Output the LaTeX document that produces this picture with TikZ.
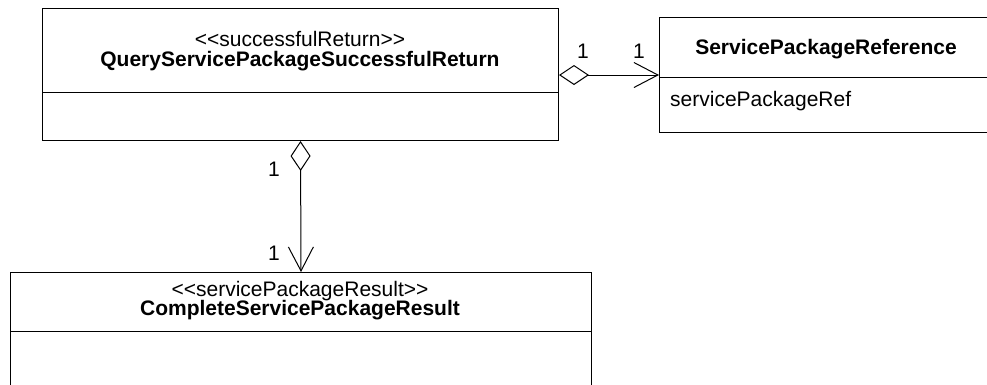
\documentclass[tikz,border=0pt]{standalone}
\usepackage{fontspec}
\setmainfont{Liberation Sans}
\usetikzlibrary{arrows.meta}
\newcommand\ltlt{<\kern0pt<}
\newcommand\gtgt{>\kern0pt>}
\begin{document}
\begin{tikzpicture}[x=1pt,y=-1pt,
  box/.style={draw, line width=1pt, rectangle, inner sep=0pt, anchor=north west},
  divider/.style={line width=1pt},
  txt/.style={font=\fontsize{21}{24}\selectfont, inner sep=0pt},
  btxt/.style={font=\fontsize{21}{24}\selectfont\bfseries, inner sep=0pt},
  agg/.style={line width=1pt,
    {Diamond[open, length=30pt, width=20pt, line width=1pt]}-{Straight Barb[length=24pt, width=25pt, line width=1pt]}}]
\useasboundingbox (0,0) rectangle (987,384);
% boxes
\node[box, minimum width=516pt, minimum height=132pt] (q) at (42,8) {};
\node[box, minimum width=335pt, minimum height=115pt] (r) at (659,17) {};
\node[box, minimum width=581pt, minimum height=130pt] (c) at (10,272) {};
\coordinate (qd) at (0,92);
\coordinate (rd) at (0,77);
\coordinate (cd) at (0,331);
\draw[divider] (q.west |- qd) -- (q.east |- qd);
\draw[divider] (r.west |- rd) -- (r.east |- rd);
\draw[divider] (c.west |- cd) -- (c.east |- cd);
% texts
\node[txt, anchor=base] (qs) at (300,46) {\ltlt successfulReturn\gtgt};
\node[btxt, anchor=base] (qn) at (300,66) {QueryServicePackageSuccessfulReturn};
\node[btxt, anchor=base] (rn) at (826,54) {ServicePackageReference};
\node[txt, anchor=base west] (ra) at (670,106) {servicePackageRef};
\node[txt, anchor=base] (cs) at (300,296) {\ltlt servicePackageResult\gtgt};
\node[btxt, anchor=base] (cn) at (300,315) {CompleteServicePackageResult};
% connectors
\coordinate (h) at (0,75);
\draw[agg] (q.east |- h) -- (r.west |- h);
\draw[agg] (q.south) -- (c.north);
% multiplicities
\node[txt] (m1) at (583,51.5) {1};
\node[txt] (m2) at (639,51.5) {1};
\node[txt] (m3) at (274,169.5) {1};
\node[txt] (m4) at (274,253.5) {1};
\end{tikzpicture}
\end{document}
